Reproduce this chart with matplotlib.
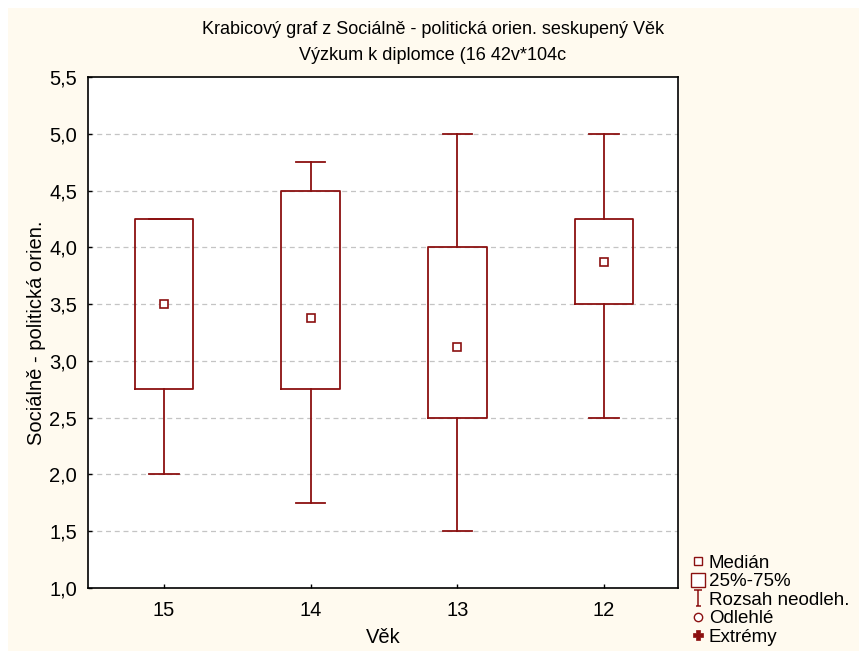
import matplotlib
matplotlib.use("Agg")
import matplotlib.pyplot as plt
from matplotlib.lines import Line2D
from matplotlib.patches import Rectangle
from matplotlib.path import Path

# ---- data ----
categories = ["15", "14", "13", "12"]
medians = [3.5, 3.375, 3.125, 3.875]
q1 = [2.75, 2.75, 2.5, 3.5]
q3 = [4.25, 4.5, 4.0, 4.25]
whisk_lo = [2.0, 1.75, 1.5, 2.5]
whisk_hi = [4.25, 4.75, 5.0, 5.0]
yticks = [1.0, 1.5, 2.0, 2.5, 3.0, 3.5, 4.0, 4.5, 5.0, 5.5]
ytick_labels = ["1,0", "1,5", "2,0", "2,5", "3,0", "3,5", "4,0", "4,5", "5,0", "5,5"]
legend_labels = ["Medián", "25%-75%", "Rozsah neodleh.", "Odlehlé", "Extrémy"]

title1 = "Krabicový graf z Sociálně - politická orien. seskupený Věk"
title2 = "Výzkum k diplomce (16 42v*104c"
xlabel = "Věk"
ylabel = "Sociálně - politická orien."

RED = "#8B1010"
CREAM = "#FFFAEF"
W, H = 859, 651

plt.rcParams['font.family'] = ['Liberation Sans', 'DejaVu Sans']

fig = plt.figure(figsize=(W / 100, H / 100), dpi=100, facecolor="white")
fig.patches.append(Rectangle((8 / W, 0), 1 - 8 / W, 1 - 8 / H, transform=fig.transFigure,
                             facecolor=CREAM, edgecolor="none", zorder=-10))

ax = fig.add_axes([88 / W, 1 - 588 / H, (678 - 88) / W, (588 - 77) / H])
ax.set_facecolor("white")

positions = list(range(1, len(categories) + 1))
stats = []
for i, c in enumerate(categories):
    stats.append(dict(med=medians[i], q1=q1[i], q3=q3[i],
                      whislo=whisk_lo[i], whishi=whisk_hi[i], fliers=[], label=c))

ax.bxp(stats, positions=positions, widths=0.4, showfliers=False,
       boxprops=dict(color=RED, linewidth=1.3),
       whiskerprops=dict(color=RED, linewidth=1.3),
       capprops=dict(color=RED, linewidth=1.3),
       medianprops=dict(linewidth=0),
       capwidths=0.2, zorder=3)
ax.plot(positions, medians, linestyle="none", marker="s", markersize=5.5,
        markerfacecolor="white", markeredgecolor=RED, markeredgewidth=1.2, zorder=4)

ax.set_xlim(0.482, 4.505)
ax.set_ylim(1.0, 5.5)
ax.set_yticks(yticks)
ax.set_yticklabels(ytick_labels)
ax.set_xticks(positions)
ax.set_xticklabels(categories)
ax.tick_params(direction="in", length=3, width=1, labelsize=14.5, colors="black")
ax.tick_params(axis="y", pad=8)
ax.tick_params(axis="x", pad=9)

for v in yticks[1:-1]:
    ax.axhline(v, color="#C4C4C4", linewidth=0.9, linestyle=(0, (4, 3)), zorder=1)

for s in ax.spines.values():
    s.set_linewidth(1.2)
    s.set_color("black")

ax.set_xlabel(xlabel, fontsize=14.5, labelpad=6)
ax.set_ylabel(ylabel, fontsize=14.5, labelpad=2)

fig.text(433 / W, 1 - 30 / H, title1, ha="center", va="center", fontsize=13)
fig.text(433 / W, 1 - 56 / H, title2, ha="center", va="center", fontsize=13)

# legend
whisker_path = Path([(-0.5, 1), (0.5, 1), (0, 1), (0, -1), (-0.3, -1), (0.3, -1)],
                    [Path.MOVETO, Path.LINETO, Path.MOVETO, Path.LINETO, Path.MOVETO, Path.LINETO])
handles = [
    Line2D([], [], linestyle="none", marker="s", markersize=6, markerfacecolor="white",
           markeredgecolor=RED, markeredgewidth=1),
    Line2D([], [], linestyle="none", marker="s", markersize=10, markerfacecolor="white",
           markeredgecolor=RED, markeredgewidth=1),
    Line2D([], [], linestyle="none", marker=whisker_path, markersize=12, markerfacecolor="none",
           markeredgecolor=RED, markeredgewidth=1.1),
    Line2D([], [], linestyle="none", marker="o", markersize=6, markerfacecolor="white",
           markeredgecolor=RED, markeredgewidth=1),
    Line2D([], [], linestyle="none", marker="P", markersize=7, markerfacecolor=RED,
           markeredgecolor=RED, markeredgewidth=0.5),
]
fig.legend(handles, legend_labels, loc="lower left", bbox_to_anchor=(692 / W, 5 / H),
           frameon=False, fontsize=13.5, handlelength=0.6, handletextpad=0.3,
           labelspacing=0.08, borderpad=0, borderaxespad=0)

fig.savefig("out.png", dpi=100, facecolor=fig.get_facecolor())
